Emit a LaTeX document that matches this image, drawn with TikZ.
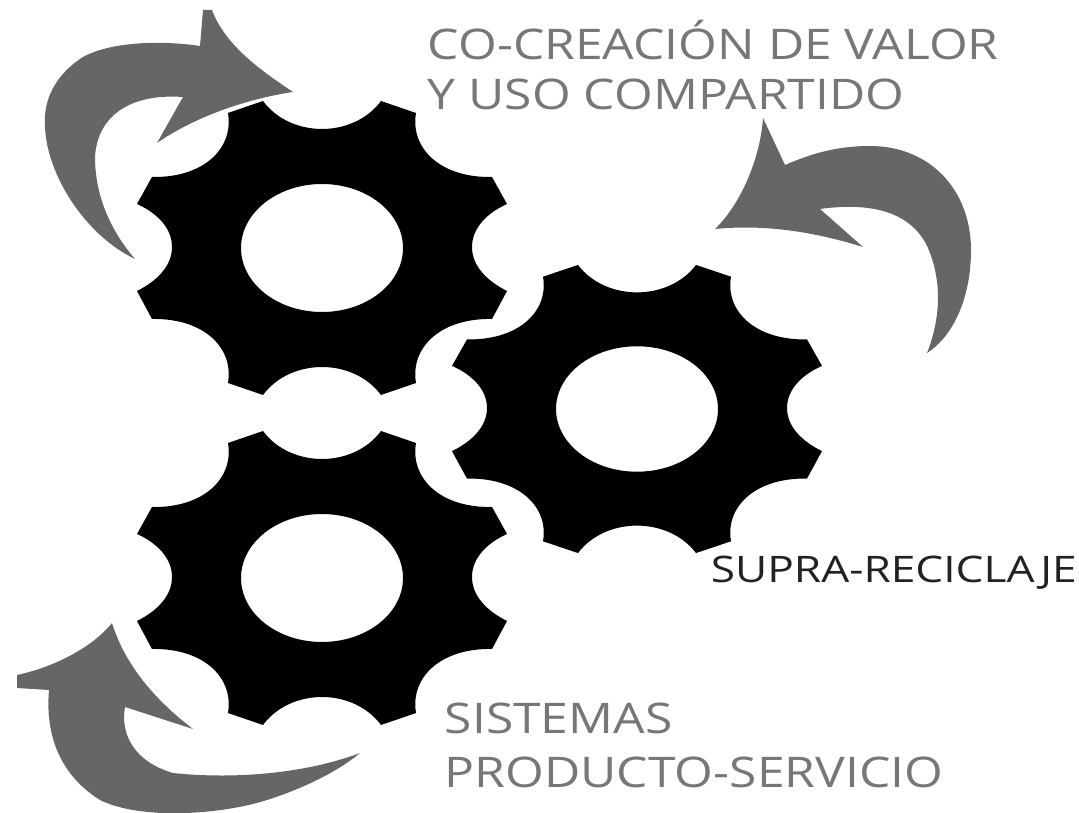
\documentclass[tikz,border=0pt]{standalone}
\usepackage{tikz}
\usepackage{xcolor}
\usepackage{fontspec}
\setmainfont{Open Sans}

\begin{document}
\begin{tikzpicture}[x=0.01cm,y=-0.01cm,
  mylabel/.style={anchor=base west,inner sep=0,xscale=1.18,transform shape,font=\fontsize{12}{14}\selectfont,text=textgray},
  myarrow/.style={fill=arrowgray},
  gear/.pic={
    \fill[black,even odd rule] (-59,-147) .. controls (-45,-128) and (-22,-119) .. (0,-119)
      .. controls (22,-119) and (45,-128) .. (59,-147) -- (94,-135)
      .. controls (88,-100) and (118,-70) .. (170,-71) -- (185,-44)
      .. controls (165,-35) and (150,-20) .. (150,-1)
      .. controls (150,18) and (165,33) .. (185,43) -- (170,71)
      .. controls (118,70) and (88,100) .. (94,135) -- (59,147)
      .. controls (45,128) and (22,119) .. (0,119)
      .. controls (-22,119) and (-45,128) .. (-59,147) -- (-94,135)
      .. controls (-88,100) and (-118,70) .. (-170,71) -- (-185,43)
      .. controls (-165,33) and (-150,18) .. (-150,-1)
      .. controls (-150,-20) and (-165,-35) .. (-185,-44) -- (-170,-71)
      .. controls (-118,-70) and (-88,-100) .. (-94,-135) -- cycle
      (0,0) ellipse [x radius=81,y radius=64];
  }]
\definecolor{arrowgray}{HTML}{666666}
\definecolor{textgray}{HTML}{777777}
\definecolor{textdark}{HTML}{222222}
\useasboundingbox (0,0) rectangle (1079,813);
  \foreach \posx/\posy/\squash in {322/248/1,637/409/0.98,322/578/1}
  {  \pic[yscale=\squash] at (\posx,\posy) {gear};}
% arrows
\fill[myarrow] (293,92) .. controls (260,70) and (225,45) .. (212,10) -- (203,10) -- (200,46)
  .. controls (160,40) and (110,42) .. (83,57) .. controls (55,75) and (43,100) .. (45,127)
  .. controls (47,175) and (85,235) .. (135,259) .. controls (110,230) and (95,195) .. (95,157)
  .. controls (97,120) and (125,93) .. (183,97) -- (157,143)
  .. controls (190,120) and (240,100) .. (293,92) -- cycle;
\fill[myarrow] (715,229) .. controls (740,205) and (760,160) .. (763,118) -- (785,165)
  .. controls (815,152) and (840,146) .. (870,146) .. controls (930,146) and (971,190) .. (971,250)
  .. controls (971,295) and (955,335) .. (927,353) .. controls (940,320) and (942,285) .. (930,253)
  .. controls (918,220) and (885,200) .. (820,209) -- (863,247)
  .. controls (815,232) and (765,224) .. (715,229) -- cycle;
\fill[myarrow] (112,623) .. controls (90,650) and (50,668) .. (17,675) -- (17,688) -- (49,690)
  .. controls (45,735) and (60,775) .. (100,800) .. controls (140,820) and (220,815) .. (267,800)
  .. controls (305,788) and (340,770) .. (360,753) .. controls (310,772) and (240,780) .. (173,773)
  .. controls (135,762) and (120,735) .. (125,707) -- (193,729)
  .. controls (155,700) and (125,665) .. (112,623) -- cycle;
% labels
\node[mylabel] (covalor) at (427,60) {CO-CREACIÓN DE VALOR};
\node[mylabel] (usocomp) at (427,110) {Y USO COMPARTIDO};
\node[mylabel,text=textdark,xscale=1.025,font=\fontsize{10.4}{12}\selectfont] (supra) at (710,583) {SUPRA-RECICLAJE};
\node[mylabel] (sistemas) at (444,733) {SISTEMAS};
\node[mylabel] (producto) at (444,787) {PRODUCTO-SERVICIO};
\end{tikzpicture}
\end{document}
